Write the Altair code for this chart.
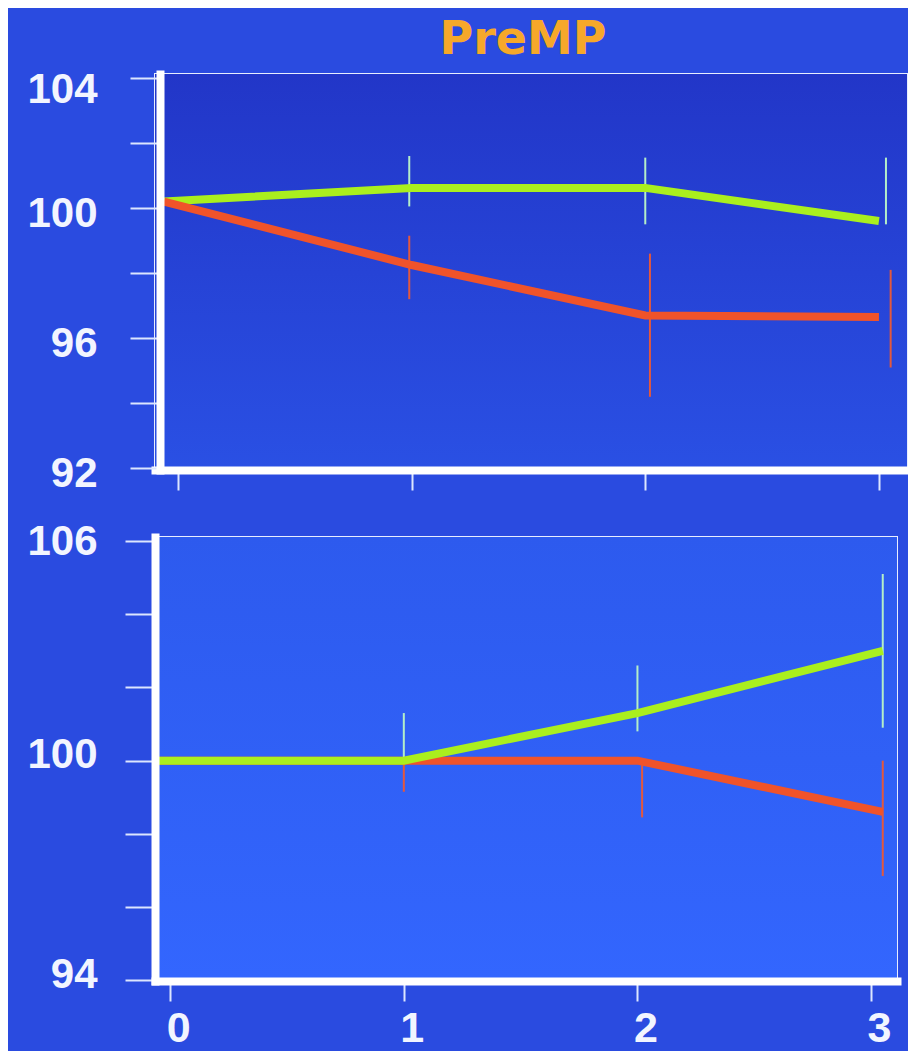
import altair as alt
import pandas as pd

TITLE = "PreMP"
X_TICKS = [0, 1, 2, 3]

# ---- top panel ----
TOP_X = [-0.06, 1, 2, 3]
TOP_GREEN = [100.2, 100.62, 100.62, 99.6]
TOP_RED = [100.2, 98.25, 96.7, 96.65]
TOP_ERR_X_GREEN = [0.99, 2.0, 3.03]
TOP_GREEN_LO = [100.05, 99.5, 99.5]
TOP_GREEN_HI = [101.6, 101.55, 101.55]
TOP_ERR_X_RED = [0.99, 2.02, 3.05]
TOP_RED_LO = [97.2, 94.2, 95.1]
TOP_RED_HI = [99.15, 98.6, 98.1]
TOP_Y_TICKS = [92, 94, 96, 98, 100, 102, 104]
TOP_Y_LABELS = [92, 96, 100, 104]

# ---- bottom panel ----
BOT_X = [-0.06, 1, 2, 3.05]
BOT_GREEN = [100.0, 100.0, 101.3, 103.0]
BOT_RED = [100.0, 100.0, 100.0, 98.6]
BOT_ERR_X_GREEN = [1.0, 2.0, 3.05]
BOT_GREEN_LO = [100.0, 100.8, 100.9]
BOT_GREEN_HI = [101.3, 102.6, 105.1]
BOT_ERR_X_RED = [1.0, 2.02, 3.05]
BOT_RED_LO = [99.15, 98.45, 96.85]
BOT_RED_HI = [100.0, 100.0, 100.0]
BOT_Y_TICKS = [94, 96, 98, 100, 102, 104, 106]
BOT_Y_LABELS = [94, 100, 106]

GREEN = "#AAEF1E"
RED = "#F0532A"
GREEN_ERR = "#B4EEC8"
RED_ERR = "#E4583C"
WHITE = "#FFFFFF"
TICK = "#DCE6FF"
FONT = "Liberation Sans"
TITLE_FONT = "DejaVu Sans"
BG = "#2A4BE0"


def gradient(c0, c1):
    return alt.LinearGradient(
        gradient="linear", x1=0, y1=0, x2=0, y2=1,
        stops=[alt.GradientStop(offset=0, color=c0), alt.GradientStop(offset=1, color=c1)],
    )


def panel(xs, green, red, egx, glo, ghi, erx, rlo, rhi, ydom, xdom, yticks, ylabels,
          width, height, yoffset, ylabpad, ybase, yoff, show_xlabels, green_on_top, grad,
          title=None):
    line_g = pd.DataFrame({"x": xs, "y": green})
    line_r = pd.DataFrame({"x": xs, "y": red})
    err_g = pd.DataFrame({"x": egx, "y": glo, "y2": ghi})
    err_r = pd.DataFrame({"x": erx, "y": rlo, "y2": rhi})

    xaxis = alt.Axis(
        values=X_TICKS, format="d", title=None, grid=False, zindex=1,
        domainColor=WHITE, domainWidth=8, domainCap="square",
        tickColor=TICK, tickWidth=2, tickSize=20,
        labels=show_xlabels, labelColor="#F2F5FF", labelFont=FONT, labelFontSize=43,
        labelFontWeight="bold", labelPadding=6, labelOffset=8, labelBaseline="top",
    )
    lab_list = "[" + ",".join(str(v) for v in ylabels) + "]"
    yaxis = alt.Axis(
        values=yticks, format="d", title=None, grid=False, zindex=1,
        labelExpr=f"indexof({lab_list}, datum.value) >= 0 ? datum.label : ''",
        domainColor=WHITE, domainWidth=8, domainCap="square", offset=yoffset,
        tickColor=TICK, tickWidth=2, tickSize=30,
        labelColor="#F2F5FF", labelFont=FONT, labelFontSize=42, labelFontWeight="bold",
        labelPadding=ylabpad, labelOffset=yoff, labelBaseline=ybase,
    )
    X = alt.X("x:Q", scale=alt.Scale(domain=xdom, nice=False, zero=False), axis=xaxis)
    Y = alt.Y("y:Q", scale=alt.Scale(domain=ydom, nice=False, zero=False), axis=yaxis)

    bgr = alt.Chart(pd.DataFrame({"a": [0]})).mark_rect(fill=gradient(*grad)).encode(
        x=alt.value(0), x2=alt.value("width"), y=alt.value(0), y2=alt.value("height"))
    lg = alt.Chart(line_g).mark_line(color=GREEN, strokeWidth=8, strokeCap="butt").encode(x=X, y=Y)
    lr = alt.Chart(line_r).mark_line(color=RED, strokeWidth=8, strokeCap="butt").encode(x=X, y=Y)
    eg = alt.Chart(err_g).mark_rule(color=GREEN_ERR, strokeWidth=2).encode(x=X, y=Y, y2=alt.Y2("y2:Q"))
    er = alt.Chart(err_r).mark_rule(color=RED_ERR, strokeWidth=2).encode(x=X, y=Y, y2=alt.Y2("y2:Q"))

    layers = [er, lr, eg, lg] if green_on_top else [eg, lg, er, lr]
    props = dict(width=width, height=height,
                 view=alt.ViewBackground(stroke="#E8EEFF", strokeWidth=2))
    if title is not None:
        props["title"] = title
    return alt.layer(lg.mark_line(opacity=0), bgr, *layers).properties(**props)


title = alt.Title(TITLE, fontSize=46, fontWeight="bold", color="#F6A82A", font=TITLE_FONT,
                  anchor="middle", frame="group", offset=5, dx=-8, baseline="top")

top = panel(TOP_X, TOP_GREEN, TOP_RED, TOP_ERR_X_GREEN, TOP_GREEN_LO, TOP_GREEN_HI,
            TOP_ERR_X_RED, TOP_RED_LO, TOP_RED_HI,
            ydom=[91.95, 104.12], xdom=[-0.098, 3.12], yticks=TOP_Y_TICKS, ylabels=TOP_Y_LABELS,
            width=752, height=396, yoffset=-5, ylabpad=33,
            ybase={"condition": {"test": "datum.value >= 104", "value": "top"}, "value": "middle"},
            yoff={"condition": {"test": "datum.value >= 104", "value": -8}, "value": 5},
            show_xlabels=False, green_on_top=False, grad=("#2236C8", "#2A50E4"), title=title)

bot = panel(BOT_X, BOT_GREEN, BOT_RED, BOT_ERR_X_GREEN, BOT_GREEN_LO, BOT_GREEN_HI,
            BOT_ERR_X_RED, BOT_RED_LO, BOT_RED_HI,
            ydom=[93.98, 106.11], xdom=[-0.065, 3.111], yticks=BOT_Y_TICKS, ylabels=BOT_Y_LABELS,
            width=742, height=444, yoffset=0, ylabpad=28,
            ybase="middle",
            yoff={"condition": {"test": "datum.value >= 106", "value": 0}, "value": -6},
            show_xlabels=True, green_on_top=True, grad=("#2D5AEE", "#3366FE"))

chart = alt.vconcat(top, bot, spacing=23).properties(
    background=BG,
    padding={"left": 17, "top": 7, "right": 0, "bottom": 0},
)

chart.save("out.html", embed_options={"renderer": "svg", "actions": False})
